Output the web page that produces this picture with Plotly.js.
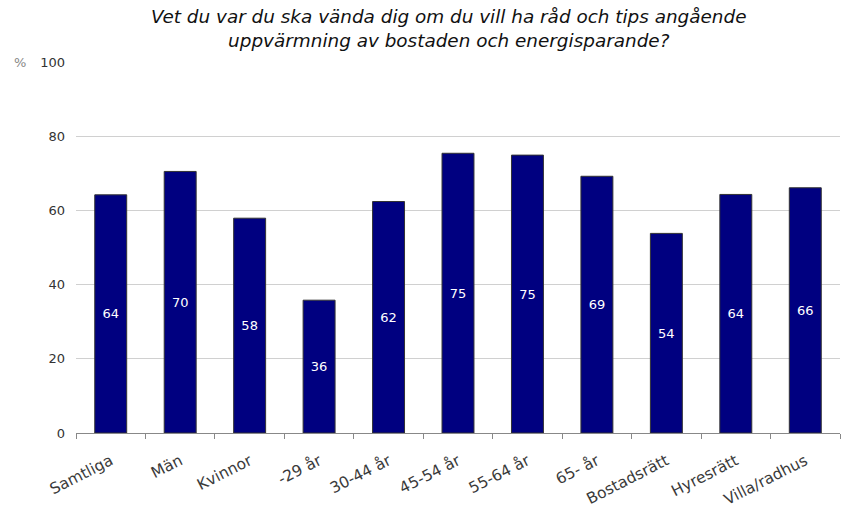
<!DOCTYPE html>
<html><head><meta charset="utf-8">
<script src="https://cdn.plot.ly/plotly-3.0.1.min.js"></script>
<style>body{margin:0;padding:0;}#c{width:850px;height:513px;}</style>
</head><body><div id="c"></div>
<script>
const categories = ["Samtliga","Män","Kvinnor","-29 år","30-44 år","45-54 år","55-64 år","65- år","Bostadsrätt","Hyresrätt","Villa/radhus"];
const values = [64.2, 70.5, 57.9, 35.8, 62.4, 75.4, 74.9, 69.2, 53.8, 64.3, 66.1];
const labels = ["64","70","58","36","62","75","75","69","54","64","66"];
const yTicks = [0,20,40,60,80,100];

const trace = {
  type: 'bar', x: categories, y: values, text: labels,
  textposition: 'inside', insidetextanchor: 'middle', textangle: 0,
  textfont: {family: 'DejaVu Sans', size: 13, color: '#ffffff'},
  marker: {color: '#000080', line: {color: '#333333', width: 1}},
  hoverinfo: 'none', cliponaxis: false
};
const layout = {
  width: 850, height: 513,
  margin: {l: 76, r: 10, t: 62, b: 80},
  paper_bgcolor: '#ffffff', plot_bgcolor: '#ffffff',
  bargap: 0.54,
  showlegend: false,
  xaxis: {type: 'category', tickangle: -27, tickson: 'boundaries', ticks: 'outside', ticklen: 5,
    tickcolor: '#888888', showline: true, linecolor: '#888888', linewidth: 1, showgrid: false,
    ticklabelstandoff: 12,
    tickfont: {family: 'DejaVu Sans', size: 15.5, color: '#3a3a3a'}, fixedrange: true},
  yaxis: {range: [0, 100], tickvals: yTicks, ticktext: yTicks.map(String), showgrid: true,
    gridcolor: '#d0d0d0', gridwidth: 1, zeroline: false, showline: false, ticks: '',
    ticklabelstandoff: 10,
    tickfont: {family: 'DejaVu Sans', size: 13, color: '#333333'}, fixedrange: true},
  annotations: [
    {text: '%', xref: 'paper', yref: 'paper', x: -0.073, y: 1, xanchor: 'center', yanchor: 'middle',
     showarrow: false, font: {family: 'DejaVu Sans', size: 13, color: '#888888'}},
    {text: 'Vet du var du ska vända dig om du vill ha råd och tips angående<br>uppvärmning av bostaden och energisparande?',
     xref: 'paper', yref: 'paper', x: 0.488, y: 1.155, xanchor: 'center', yanchor: 'top', align: 'center',
     showarrow: false, font: {family: 'DejaVu Sans', size: 18.4, color: '#111111', style: 'italic'}}
  ]
};
Plotly.newPlot('c', [trace], layout, {displayModeBar: false, staticPlot: true});
</script></body></html>
